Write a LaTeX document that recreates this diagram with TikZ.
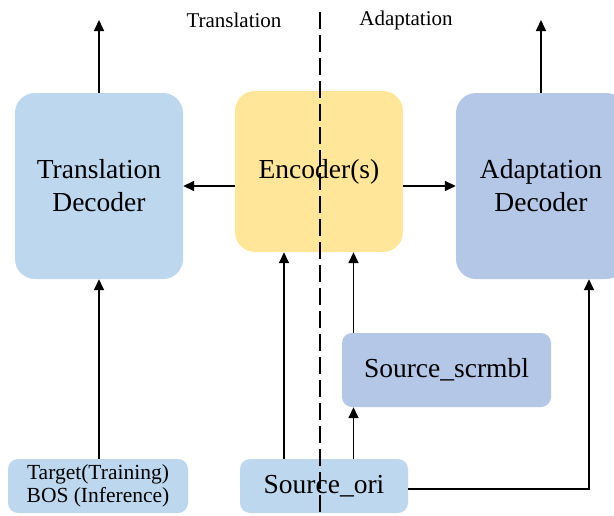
\documentclass[tikz,border=0pt]{standalone}
\usepackage{fontspec}
\setmainfont{Liberation Serif}
\usetikzlibrary{arrows.meta}
\definecolor{lblue}{HTML}{BDD7EE}
\definecolor{dblue}{HTML}{B4C7E7}
\definecolor{lyellow}{HTML}{FFE699}
\begin{document}
\begin{tikzpicture}[x=1pt,y=-1pt,
  bigbox/.style={rounded corners=20pt, inner sep=0pt, align=center, font=\fontsize{27.5}{33}\selectfont},
  smallbox/.style={rounded corners=10pt, inner sep=0pt, align=center},
  arr/.style={line width=1.6pt, -{Triangle[length=11pt,width=10pt]}},
  lbl/.style={font=\fontsize{21}{24}\selectfont, inner sep=0pt}]
\useasboundingbox (0,0) rectangle (614,515);
\node[bigbox, fill=lblue, minimum width=168pt, minimum height=186pt] (td) at (99,186) {Translation\\Decoder};
\node[bigbox, fill=lyellow, minimum width=168pt, minimum height=161pt] (enc) at (319,171.5) {\raisebox{-3pt}{Encoder(s)}};
\node[bigbox, fill=dblue, minimum width=170pt, minimum height=186pt] (ad) at (541,186) {Adaptation\\Decoder};
\node[smallbox, fill=dblue, minimum width=209pt, minimum height=74pt, font=\fontsize{27.5}{30}\selectfont] (scr) at (446.5,370) {Source\_scrmbl};
\node[smallbox, fill=lblue, minimum width=180pt, minimum height=54pt, font=\fontsize{21.5}{23}\selectfont] (tgt) at (98,486) {Target(Training)\\BOS (Inference)};
\node[smallbox, fill=lblue, minimum width=168pt, minimum height=54pt, font=\fontsize{27.5}{30}\selectfont] (src) at (324,486) {Source\_ori};
\node[lbl] (tl) at (234,20) {Translation};
\node[lbl] (al) at (406,20) {Adaptation};
\coordinate (tdtop) at (99,20);
\coordinate (adtop) at (541,20);
\coordinate (c1) at (284,0);
\coordinate (c2) at (353.5,0);
\coordinate (c3) at (589,0);
\coordinate (dtop) at (320,12);
\coordinate (dbot) at (320,515);
\draw[arr] (td.north) -- (tdtop);
\draw[arr] (ad.north) -- (adtop);
\draw[arr] (enc.west |- td.east) -- (td.east);
\draw[arr] (enc.east |- ad.west) -- (ad.west);
\draw[arr] (tgt.north -| td.south) -- (td.south);
\draw[arr] (src.north -| c1) -- (enc.south -| c1);
\draw[arr] (scr.north -| c2) -- (enc.south -| c2);
\draw[arr] (src.north -| c2) -- (scr.south -| c2);
\draw[arr] ([yshift=-3pt]src.east) -| (ad.south -| c3);
\draw[line width=2pt, dash pattern=on 17pt off 6pt] (dtop) -- (dbot);
\end{tikzpicture}
\end{document}
